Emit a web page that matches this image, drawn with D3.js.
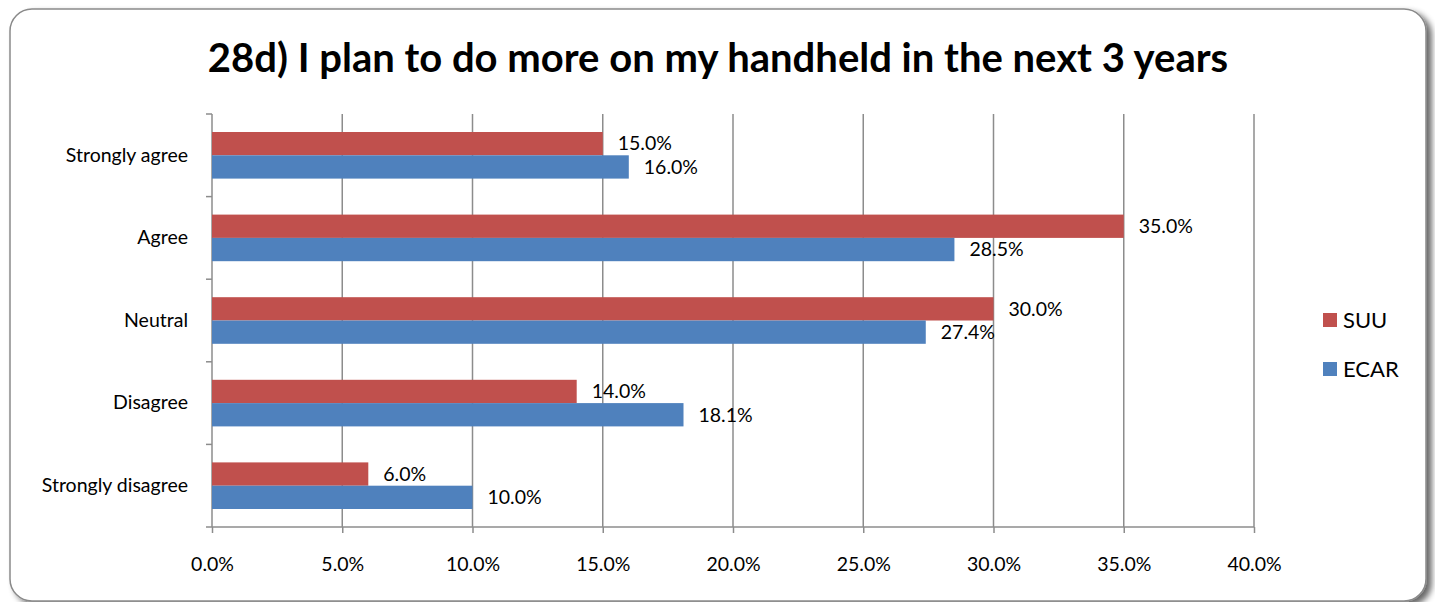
<!DOCTYPE html>
<html>
<head>
<meta charset="utf-8">
<script src="https://cdn.jsdelivr.net/npm/d3@7"></script>
<style>
  body { margin: 0; background: #fff; }
  svg text { font-family: Lato, "Open Sans", sans-serif; fill: #000; }
</style>
</head>
<body>
<div class="content"></div>
<script>
var categories = ['Strongly agree', 'Agree', 'Neutral', 'Disagree', 'Strongly disagree']
var seriesNames = ['SUU', 'ECAR']
var suu = [15.0, 35.0, 30.0, 14.0, 6.0]
var ecar = [16.0, 28.5, 27.4, 18.1, 10.0]
var xTicks = [0, 5, 10, 15, 20, 25, 30, 35, 40]
var colors = ['#C0504D', '#4F81BD']

var width = 1435, height = 602
var margin = { top: 114, left: 212, right: 181, bottom: 75 }

var svg = d3.select('.content').append('svg')
    .attr('width', width)
    .attr('height', height)

// drop shadow for the frame
var defs = svg.append('defs')
var f = defs.append('filter').attr('id', 'shadow')
    .attr('x', '-5%').attr('y', '-5%').attr('width', '110%').attr('height', '115%')
f.append('feGaussianBlur').attr('in', 'SourceAlpha').attr('stdDeviation', 3)
f.append('feOffset').attr('dx', 5).attr('dy', 4).attr('result', 'b')
f.append('feComponentTransfer').append('feFuncA').attr('type', 'linear').attr('slope', 0.6)
var m = f.append('feMerge')
m.append('feMergeNode')
m.append('feMergeNode').attr('in', 'SourceGraphic')

svg.append('rect')
    .attr('x', 10).attr('y', 9)
    .attr('width', 1416).attr('height', 592)
    .attr('rx', 22).attr('ry', 22)
    .style('fill', '#fff')
    .style('stroke', '#8a8a8a')
    .style('stroke-width', 1.5)
    .attr('filter', 'url(#shadow)')

svg.append('text')
    .attr('x', 718).attr('y', 72)
    .attr('text-anchor', 'middle')
    .style('font-size', '40px')
    .style('font-weight', 'bold')
    .text('28d) I plan to do more on my handheld in the next 3 years')

var x = d3.scaleLinear()
    .domain([0, 40])
    .range([margin.left, width - margin.right])

var y = d3.scaleBand()
    .domain(categories)
    .range([margin.top, height - margin.bottom])

var inner = d3.scaleBand()
    .domain(seriesNames)
    .range([18, y.bandwidth() - 18])

// gridlines
svg.append('g')
    .selectAll('line')
    .data(xTicks.slice(1))
    .enter().append('line')
    .attr('x1', function(d) { return x(d) })
    .attr('x2', function(d) { return x(d) })
    .attr('y1', margin.top)
    .attr('y2', height - margin.bottom)
    .style('stroke', '#8c8c8c')
    .style('stroke-width', 1.5)

// x axis
var xAxis = svg.append('g')
    .attr('transform', 'translate(0,' + (height - margin.bottom) + ')')
    .call(d3.axisBottom(x).tickValues(xTicks).tickSize(6).tickPadding(24)
        .tickFormat(function(d) { return d.toFixed(1) + '%' }))
xAxis.selectAll('path, line').style('stroke', '#8c8c8c').style('stroke-width', 1.5)
xAxis.select('.domain').attr('d', 'M' + x(0) + ',0H' + x(40))
xAxis.selectAll('text').style('font-size', '19.5px')

// y axis
var yAxis = svg.append('g')
    .attr('transform', 'translate(' + margin.left + ',0)')
    .call(d3.axisLeft(y).tickSize(0).tickPadding(24))
yAxis.select('.domain').style('stroke', '#8c8c8c').style('stroke-width', 1.5)
    .attr('d', 'M0,' + margin.top + 'V' + (height - margin.bottom))
yAxis.selectAll('text').style('font-size', '19.5px')
yAxis.append('g')
    .selectAll('line')
    .data(d3.range(categories.length + 1))
    .enter().append('line')
    .attr('x1', -6).attr('x2', 0)
    .attr('y1', function(i) { return margin.top + i * y.step() })
    .attr('y2', function(i) { return margin.top + i * y.step() })
    .style('stroke', '#8c8c8c')
    .style('stroke-width', 1.5)

// bars
var rows = categories.map(function(c, i) {
    return { cat: c, values: [{ s: 'SUU', v: suu[i], c: colors[0] }, { s: 'ECAR', v: ecar[i], c: colors[1] }] }
})

var groups = svg.append('g').selectAll('g')
    .data(rows)
    .enter().append('g')
    .attr('transform', function(d) { return 'translate(0,' + y(d.cat) + ')' })

groups.selectAll('rect')
    .data(function(d) { return d.values })
    .enter().append('rect')
    .attr('x', x(0))
    .attr('y', function(d) { return inner(d.s) })
    .attr('width', function(d) { return x(d.v) - x(0) })
    .attr('height', inner.bandwidth())
    .style('fill', function(d) { return d.c })

groups.selectAll('text')
    .data(function(d) { return d.values })
    .enter().append('text')
    .attr('x', function(d) { return x(d.v) + 15 })
    .attr('y', function(d) { return inner(d.s) + inner.bandwidth() / 2 })
    .attr('dy', '0.35em')
    .style('font-size', '19.5px')
    .text(function(d) { return d.v.toFixed(1) + '%' })

// legend
var legend = svg.append('g').selectAll('g')
    .data(seriesNames)
    .enter().append('g')
    .attr('transform', function(d, i) { return 'translate(1323,' + (320 + i * 49) + ')' })
legend.append('rect')
    .attr('x', 0).attr('y', -7)
    .attr('width', 14).attr('height', 14)
    .style('fill', function(d, i) { return colors[i] })
legend.append('text')
    .attr('x', 20).attr('dy', '0.35em')
    .style('font-size', '22px')
    .text(function(d) { return d })
</script>
</body>
</html>
